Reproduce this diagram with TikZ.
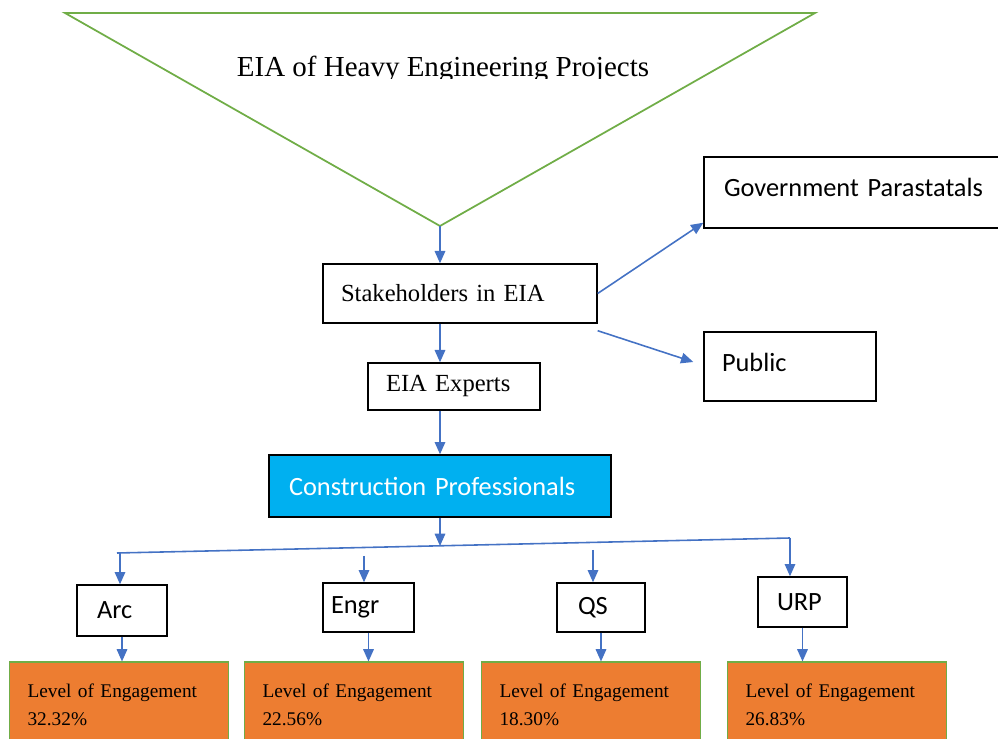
\documentclass[tikz,border=0pt]{standalone}
\usepackage{fontspec}
\setmainfont{Liberation Serif}
\newfontfamily\calibrifont{Carlito}
\usetikzlibrary{arrows.meta}
\definecolor{arrowblue}{RGB}{68,114,196}
\definecolor{trigreen}{RGB}{112,173,71}
\definecolor{cpblue}{RGB}{0,176,240}
\definecolor{loeorange}{RGB}{237,125,49}

\begin{document}
\begin{tikzpicture}[x=0.02cm, y=-0.02cm,
    box/.style={draw=black, line width=0.8pt, align=left, inner ysep=0pt},
    serifbox/.style={box, font=\fontsize{14}{16}\selectfont},
    sansbox/.style={box, font=\calibrifont\fontsize{15}{17}\selectfont},
    loebox/.style={draw=trigreen, line width=0.6pt, fill=loeorange, align=left,
      inner xsep=0.36cm, text width=3.66cm, minimum height=1.72cm,
      font=\fontsize{11}{16}\selectfont},
    arr/.style={draw=arrowblue, line width=0.9pt, -{Triangle[width=6pt,length=7pt]}}]
  \useasboundingbox (0,0) rectangle (998,739);
  % funnel
  \draw[trigreen, line width=1pt]
    (65,13) coordinate (tl) -- (815,13) coordinate (tr) -- (440,226) coordinate (apex) -- cycle;
  \begin{scope}
    \clip (70,20) rectangle (810,78.5);
    \node[anchor=base, font=\fontsize{16.5}{18}\selectfont] (title) at (443,77) {EIA of Heavy Engineering Projects};
  \end{scope}
  % boxes
  \node[serifbox, text width=4.76cm, inner xsep=0.36cm, minimum height=1.18cm] (stake) at (460,293.5) {Stakeholders in EIA};
  \node[sansbox, text width=5.32cm, inner xsep=0.4cm, text depth=0.2cm, minimum height=1.42cm] (govt) at (857,192.5) {Government Parastatals};
  \node[sansbox, text width=2.72cm, inner xsep=0.36cm, text depth=0.18cm, minimum height=1.38cm] (public) at (790,366.5) {Public};
  \node[serifbox, text width=2.72cm, inner xsep=0.36cm, minimum height=0.94cm] (experts) at (454,386.5) {EIA Experts};
  \node[sansbox, fill=cpblue, text=white, text width=6.04cm, inner xsep=0.4cm, minimum height=1.24cm] (cp) at (440,486) {Construction Professionals};
  \node[sansbox, text width=1.0cm, inner xsep=0.4cm, minimum height=1.02cm] (arc) at (122,610.5) {Arc};
  \node[sansbox, text width=1.5cm, inner xsep=0.16cm, minimum height=0.98cm] (engr) at (368.5,607.5) {Engr};
  \node[sansbox, text width=0.92cm, inner xsep=0.42cm, minimum height=0.98cm] (qs) at (601,607.5) {QS};
  \node[sansbox, text width=1.02cm, inner xsep=0.38cm, minimum height=1.0cm] (urp) at (802.5,602) {URP};
  \node[loebox] (loe1) at (119,705) {Level of Engagement\\32.32\%};
  \node[loebox] (loe2) at (354,705) {Level of Engagement\\22.56\%};
  \node[loebox] (loe3) at (591,705) {Level of Engagement\\18.30\%};
  \node[loebox] (loe4) at (837,705) {Level of Engagement\\26.83\%};
  % branch line
  \coordinate (busL) at (117,553);
  \coordinate (busR) at (790,538);
  \coordinate (busM) at (440,546);
  \coordinate (a1) at (120,553);
  \coordinate (e1) at (364,556);
  \coordinate (q1) at (593,550);
  \draw[arrowblue, line width=0.9pt] (busL) -- (busR);
  \begin{scope}[arr]
    \draw (apex) to (apex |- stake.north);
    \draw (stake.east) to ([yshift=0.12cm]govt.south west);
    \draw ([yshift=-0.14cm]stake.south east) to ([xshift=-0.2cm,yshift=0.09cm]public.west);
    \draw (stake.south -| apex) to (experts.north -| apex);
    \draw (experts.south -| cp.north) to (cp.north);
    \draw (cp.south) to (busM);
    \draw (a1) to (a1 |- arc.north);
    \draw (e1) to (e1 |- engr.north);
    \draw (q1) to (q1 |- qs.north);
    \draw (busR) to (busR |- urp.north);
    \draw (arc.south) to (arc.south |- loe1.north);
    \draw (engr.south) to (engr.south |- loe2.north);
    \draw (qs.south) to (qs.south |- loe3.north);
    \draw (urp.south) to (urp.south |- loe4.north);
  \end{scope}
\end{tikzpicture}
\end{document}
